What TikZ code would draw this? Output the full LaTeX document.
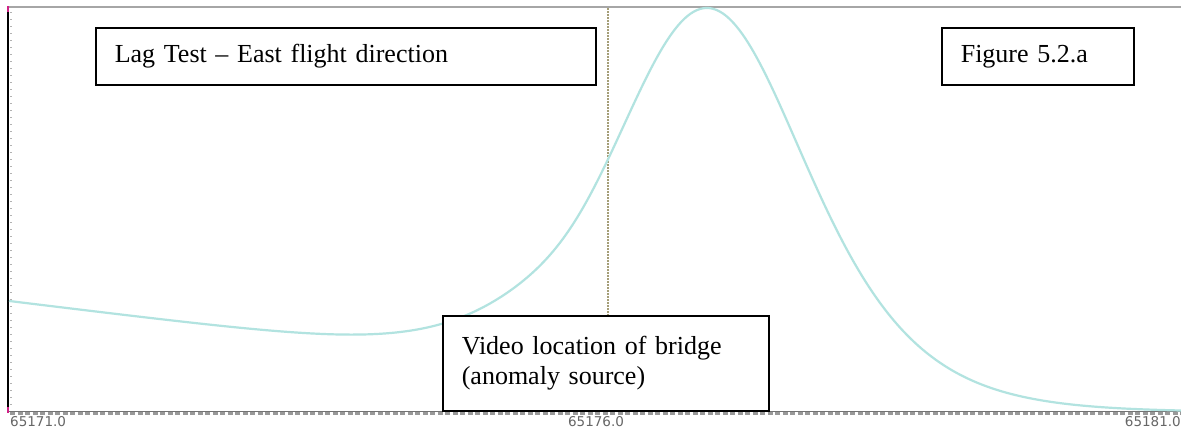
\documentclass[tikz,border=0pt]{standalone}
\usepackage{fontspec}
\setmainfont{Liberation Serif}
\newfontfamily\ticklabelfont{DejaVu Sans}
\begin{document}
\begin{tikzpicture}[x=1pt,y=-1pt,
  labelbox/.style={draw=black, line width=1.6pt, fill=white, anchor=north west,
    inner xsep=19pt, inner ysep=0pt, align=left,
    font=\fontsize{26}{29.5}\selectfont},
  ticklabel/.style={text=black!60, inner sep=0pt, font=\ticklabelfont\fontsize{13.5}{13.5}\selectfont},
  signal/.style={color={rgb,255:red,178;green,227;blue,224}, line width=2.2pt, line join=round},
  marker/.style={color={rgb,255:red,165;green,158;blue,120}, line width=2pt, dash pattern=on 1.5pt off 1.5pt}
]
\useasboundingbox (0,0) rectangle (1181,429);
\fill[white] (0,0) rectangle (1181,429);

% plot frame
\draw[black!35, line width=2pt] (8,7) -- (1181,7);
\draw[black!55, line width=1pt] (8,411) -- (1181,411);
\draw[black!40, line width=2.2pt, dash pattern=on 5pt off 2.5pt] (10,413.5) -- (1181,413.5);
\draw[black!30, line width=1.5pt, dash pattern=on 1pt off 6pt] (11,12) -- (11,408);
\draw[black, line width=2.6pt] (8,7) -- (8,412);
\draw[magenta!70!violet, line width=2.6pt] (8,6) -- (8,12);
\draw[magenta!70!violet, line width=2.6pt] (8,407) -- (8,413);

% reference position
\coordinate (mtop) at (608,8);
\coordinate (mbot) at (608,410);
\draw[marker] (mtop) -- (mbot);

% recorded profile: sech^2 anomaly on a sloping background that fades out
\draw[signal] plot[domain=9:1181, samples=240, smooth]
  (\x, {412 - 404/(cosh((\x-707)/136))^2
        - (111-0.123*(\x-9))/(1+exp(min(max((\x-555)/28,-9),9)))});

% annotation boxes
\node[labelbox, text width=462pt, minimum height=57pt] (title) at (95,27)
  {Lag Test -- East flight direction};
\node[labelbox, text width=154pt, minimum height=57pt] (figno) at (941,27)
  {Figure 5.2.a};
\node[labelbox, text width=288pt, minimum height=95pt] (bridge) at (442,315)
  {Video location of bridge\\(anomaly source)};

% axis values
\node[ticklabel, anchor=west] (x0) at (10,421.5) {65171.0};
\node[ticklabel] (x1) at (596,421.5) {65176.0};
\node[ticklabel, anchor=east] (x2) at (1181,421.5) {65181.0};
\end{tikzpicture}
\end{document}
